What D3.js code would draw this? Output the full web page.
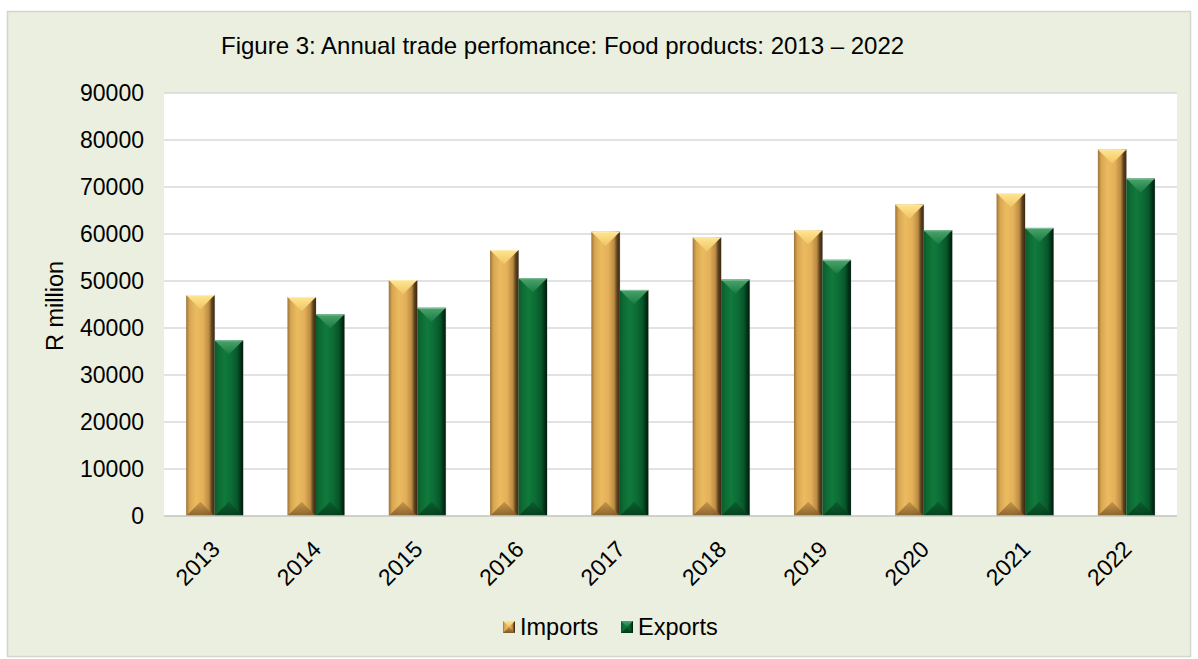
<!DOCTYPE html>
<html>
<head>
<meta charset="utf-8">
<script src="https://cdn.jsdelivr.net/npm/d3@7"></script>
<style>
  html, body { margin: 0; padding: 0; background: #ffffff; }
  svg { display: block; font-family: "Liberation Sans", Arial, sans-serif; }
</style>
</head>
<body>
<svg id="chart" width="1198" height="659"></svg>
<script>
// Annual trade in food products, R million
const years = ["2013", "2014", "2015", "2016", "2017", "2018", "2019", "2020", "2021", "2022"];
const imports = [47000, 46600, 50200, 56600, 60500, 59300, 60800, 66300, 68700, 78000];
const exports = [37400, 42900, 44300, 50600, 48100, 50300, 54500, 60800, 61300, 71800];
const seriesNames = ["Imports", "Exports"];
const yTicks = [0, 10000, 20000, 30000, 40000, 50000, 60000, 70000, 80000, 90000];
const titleText = "Figure 3: Annual trade perfomance: Food products: 2013 \u2013 2022";
const yAxisTitle = "R million";

const svg = d3.select("#chart");
const plot = { left: 164, right: 1177, top: 93, bottom: 516 };

// Colour sets for the bevelled bars
const palette = {
  Imports: {
    side: ["#9c7438", "#d8a651", "#ebbb60", "#e3b059", "#b98b42", "#5e4220", "#3a2712"],
    top: ["#ffe690", "#f0c466"],
    bottom: ["#c48f45", "#7a5828"]
  },
  Exports: {
    side: ["#0b5a2a", "#0d6a33", "#107a3c", "#0c6b34", "#07562a", "#02361a", "#001a0a"],
    top: ["#4aa56c", "#1a7a42"],
    bottom: ["#0a5a2c", "#033a1a"]
  }
};

const defs = svg.append("defs");
Object.entries(palette).forEach(([name, p]) => {
  const side = defs.append("linearGradient").attr("id", "side-" + name)
    .attr("x1", 0).attr("x2", 1).attr("y1", 0).attr("y2", 0);
  const stops = [0, 0.12, 0.35, 0.6, 0.8, 0.9, 1];
  p.side.forEach((c, i) => side.append("stop").attr("offset", stops[i]).attr("stop-color", c));
  const top = defs.append("linearGradient").attr("id", "top-" + name)
    .attr("x1", 0).attr("x2", 0).attr("y1", 0).attr("y2", 1);
  top.append("stop").attr("offset", 0).attr("stop-color", p.top[0]);
  top.append("stop").attr("offset", 1).attr("stop-color", p.top[1]);
  const bot = defs.append("linearGradient").attr("id", "bot-" + name)
    .attr("x1", 0).attr("x2", 0).attr("y1", 0).attr("y2", 1);
  bot.append("stop").attr("offset", 0).attr("stop-color", p.bottom[0]);
  bot.append("stop").attr("offset", 1).attr("stop-color", p.bottom[1]);
});

// Chart area background and frame
svg.append("rect")
  .attr("x", 7.5).attr("y", 11.5).attr("width", 1183).attr("height", 645)
  .attr("fill", "#ebefdf").attr("stroke", "#d4d6cc").attr("stroke-width", 1.5);

// Plot area
svg.append("rect")
  .attr("x", plot.left).attr("y", plot.top)
  .attr("width", plot.right - plot.left).attr("height", plot.bottom - plot.top)
  .attr("fill", "#ffffff");

const x = d3.scaleBand().domain(years)
  .range([plot.left, plot.right]).paddingInner(0.4375).paddingOuter(0.21875);
const xs = d3.scaleBand().domain(seriesNames).range([0, x.bandwidth()]).padding(0);
const y = d3.scaleLinear().domain([0, 90000]).range([plot.bottom, plot.top]);

// Gridlines
svg.append("g").selectAll("line").data(yTicks).join("line")
  .attr("x1", plot.left).attr("x2", plot.right)
  .attr("y1", d => y(d)).attr("y2", d => y(d))
  .attr("stroke", "#d9d9d9").attr("stroke-width", 1.5);

// Y axis labels
const yAxis = d3.axisLeft(y).tickValues(yTicks).tickSize(0).tickPadding(0)
  .tickFormat(d3.format("d"));
const gy = svg.append("g").attr("transform", `translate(${plot.left - 20},0)`).call(yAxis);
gy.select(".domain").remove();
gy.selectAll("text").attr("font-size", "23px").attr("fill", "#000")
  .attr("font-family", "Liberation Sans, Arial, sans-serif");

// X axis labels
const xAxis = d3.axisBottom(x).tickSize(0).tickPadding(0);
const gx = svg.append("g").attr("transform", `translate(0,${plot.bottom})`).call(xAxis);
gx.select(".domain").remove();
gx.selectAll("text")
  .attr("font-size", "23px").attr("fill", "#000")
  .attr("font-family", "Liberation Sans, Arial, sans-serif")
  .attr("text-anchor", "end")
  .attr("y", 0).attr("dy", "0.35em")
  .attr("transform", "translate(1,29) rotate(-45)");

// Bars with bevelled faces
const rows = years.map((yr, i) => ({ year: yr, values: [
  { key: "Imports", value: imports[i] },
  { key: "Exports", value: exports[i] }
]}));

const groups = svg.append("g").selectAll("g").data(rows).join("g")
  .attr("transform", d => `translate(${x(d.year)},0)`);

const bars = groups.selectAll("g").data(d => d.values).join("g")
  .attr("transform", d => `translate(${xs(d.key)},0)`);

bars.each(function(d) {
  const g = d3.select(this);
  const w = xs.bandwidth();
  const y0 = y(d.value), y1 = y(0);
  const bev = Math.min(w / 2, (y1 - y0) / 2);
  g.append("rect").attr("x", 0.5).attr("y", y0).attr("width", w).attr("height", y1 - y0)
    .attr("fill", "#c8c8c0").attr("opacity", 0.7);
  g.append("rect").attr("x", 0).attr("y", y0).attr("width", w).attr("height", y1 - y0)
    .attr("fill", `url(#side-${d.key})`);
  g.append("path")
    .attr("d", `M0,${y0}L${w},${y0}L${w / 2},${y0 + bev}Z`)
    .attr("fill", `url(#top-${d.key})`);
  g.append("path")
    .attr("d", `M0,${y1}L${w},${y1}L${w / 2},${y1 - bev}Z`)
    .attr("fill", `url(#bot-${d.key})`).attr("opacity", 0.85);
  g.append("line").attr("x1", 0).attr("x2", w).attr("y1", y0 + 0.5).attr("y2", y0 + 0.5)
    .attr("stroke", "#ffffff").attr("stroke-opacity", 0.35);
});

// Baseline
svg.append("line")
  .attr("x1", plot.left).attr("x2", plot.right)
  .attr("y1", plot.bottom).attr("y2", plot.bottom)
  .attr("stroke", "#c9cdc0").attr("stroke-width", 1.5);

// Title
svg.append("text")
  .attr("x", 221).attr("y", 54)
  .attr("font-size", "24px").attr("fill", "#000")
  .text(titleText);

// Y axis title
svg.append("text")
  .attr("transform", "translate(63,306) rotate(-90)")
  .attr("text-anchor", "middle")
  .attr("font-size", "23.5px").attr("fill", "#000")
  .text(yAxisTitle);

// Legend
const legendX = [503, 621];
const legend = svg.append("g").selectAll("g").data(seriesNames).join("g")
  .attr("transform", (d, i) => `translate(${legendX[i]},621)`);
legend.append("rect").attr("width", 12).attr("height", 12)
  .attr("fill", d => `url(#side-${d})`);
legend.append("path").attr("d", "M0,0L12,0L6,6Z").attr("fill", d => `url(#top-${d})`);
legend.append("path").attr("d", "M0,12L12,12L6,6Z").attr("fill", d => `url(#bot-${d})`);
legend.append("text").attr("x", 17).attr("y", 6).attr("dy", "0.35em")
  .attr("font-size", "23.5px").attr("fill", "#000")
  .text(d => d);
</script>
</body>
</html>
